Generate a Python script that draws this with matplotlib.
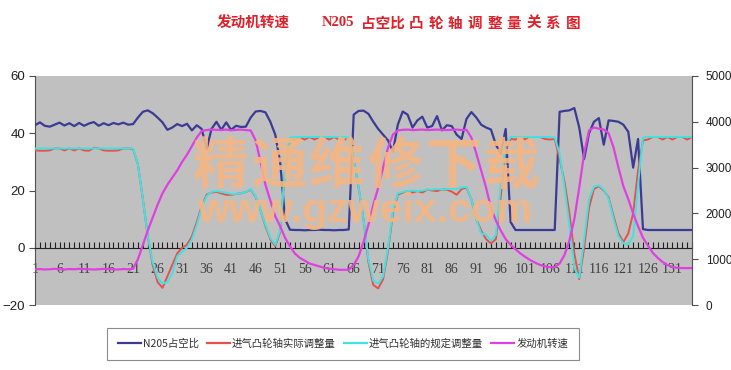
import numpy as np
import matplotlib
matplotlib.use("Agg")
import matplotlib.pyplot as plt
from matplotlib.lines import Line2D

plt.rcParams['font.family'] = ['Noto Sans CJK SC', 'DejaVu Sans']

categories = list(range(1, 136))
tick_labels = [str(c) for c in range(1, 136, 5)]

n205_duty = [
    42.8, 43.8, 42.6, 42.3, 43.0, 43.7, 42.7, 43.5, 42.5, 43.6,
    42.6, 43.4, 43.9, 42.6, 43.5, 42.8, 43.6, 43.1, 43.7, 43.0,
    43.2, 45.5, 47.5, 48.0, 47.0, 45.5, 43.8, 41.2, 42.0, 43.2,
    42.5, 43.3, 41.0, 42.8, 41.5, 34.5, 41.5, 44.0, 41.2, 43.8,
    41.2, 42.6, 42.2, 42.3, 45.5, 47.6, 47.8, 47.3, 44.0, 39.5,
    30.0, 10.0,
    6.3, 6.2, 6.2, 6.1, 6.2, 6.2, 6.3, 6.2, 6.2, 6.1, 6.2, 6.2, 6.4,
    46.5, 47.8, 47.9, 46.8, 44.0, 41.5, 39.5, 37.5, 33.5, 43.0,
    47.6, 46.5, 42.0, 44.5, 45.8, 42.0, 42.5, 46.0, 41.0, 42.8,
    42.5, 39.5, 38.0, 45.0, 47.4, 45.5, 43.0, 42.0, 41.3, 36.0,
    33.0, 41.5, 9.0,
    6.2, 6.2, 6.2, 6.2, 6.2, 6.2, 6.2, 6.2, 6.2,
    47.5, 47.8, 48.0, 48.8, 42.0, 31.0, 40.0, 44.0, 45.3, 36.0,
    44.5, 44.3, 44.0, 43.0, 40.5, 28.0, 38.0, 6.5,
    6.2, 6.2, 6.2, 6.2, 6.2, 6.2, 6.2, 6.2, 6.2, 6.2,
]

cam_actual = [
    34.0, 33.9, 33.9, 34.0, 34.7, 34.7, 34.0, 34.7, 34.0, 34.7,
    34.0, 33.9, 34.9, 34.7, 34.0, 33.9, 33.9, 34.0, 34.7, 34.7,
    34.5, 29.0, 17.0, 4.0, -6.0, -12.0, -14.0, -10.0, -6.0, -2.0,
    0.0, 1.0, 4.0, 9.0, 14.5, 18.5, 19.3, 19.5, 19.0, 18.5,
    18.5, 18.8, 19.0, 19.5, 20.3, 17.8, 13.0, 7.5, 3.0, 0.5,
    5.5, 27.0, 38.0,
    37.8, 38.7, 37.8, 38.7, 37.8, 38.7, 38.7, 37.8, 38.7, 37.8, 37.9,
    38.0, 31.0, 21.0, 10.0, -5.0, -13.0, -14.2, -11.0, -1.0, 12.0,
    18.5, 19.3, 19.8, 19.3, 19.8, 19.3, 20.3, 20.0, 19.8, 20.3,
    20.3, 19.6, 18.5, 20.5, 21.0, 17.0, 10.0, 6.0, 3.0, 1.5,
    3.0, 18.0, 34.0,
    38.0, 37.8, 38.7, 37.8, 38.7, 38.7, 38.7, 38.0, 37.8,
    38.0, 31.0, 23.0, 12.0, -2.0, -11.0, 0.0, 14.0, 20.5, 21.5,
    20.0, 17.5, 11.0, 5.0, 2.0, 5.0, 12.0, 27.0, 37.5,
    37.8, 38.7, 38.7, 37.8, 38.7, 37.8, 38.7, 38.7, 37.8, 38.7,
]

cam_spec = [
    34.7, 34.7, 34.7, 34.7, 34.7, 34.7, 34.7, 34.7, 34.7, 34.7,
    34.7, 34.7, 34.7, 34.7, 34.7, 34.7, 34.7, 34.7, 34.7, 34.7,
    34.7, 29.0, 17.0, 4.0, -5.0, -10.5, -12.5, -12.0, -9.0, -3.0,
    -1.5, 0.0, 3.0, 8.0, 14.0, 18.0, 19.5, 19.8, 19.5, 19.2,
    18.8, 18.8, 19.0, 19.5, 20.5, 18.0, 13.0, 8.0, 3.5, 1.0,
    6.0, 28.0, 38.5,
    38.7, 38.7, 38.7, 38.7, 38.7, 38.7, 38.7, 38.7, 38.7, 38.7, 38.7,
    38.5, 31.0, 21.0, 10.0, -4.0, -11.5, -12.5, -10.0, 0.0, 13.0,
    19.0, 19.5, 19.8, 20.0, 19.8, 20.0, 20.3, 20.3, 20.5, 20.3,
    20.5, 20.7, 20.5, 21.0, 21.3, 17.0, 10.0, 5.0, 4.5, 2.5,
    4.5, 22.0, 35.5,
    38.7, 38.7, 38.7, 38.7, 38.7, 38.7, 38.7, 38.7, 38.7,
    38.5, 33.0, 21.0, 8.0, -7.0, -10.5, 3.0, 17.0, 21.3, 21.8,
    20.3, 17.0, 10.0, 4.0, 1.5, 1.2, 4.0, 22.0, 38.5,
    38.7, 38.7, 38.7, 38.7, 38.7, 38.7, 38.7, 38.7, 38.7, 38.7,
]

engine_rpm = [
    780, 785, 775, 780, 790, 780, 775, 785, 780, 790,
    785, 780, 775, 780, 790, 785, 780, 775, 785, 780,
    790, 1000, 1312, 1625, 1906, 2188, 2438, 2625, 2781, 2938,
    3125, 3281, 3469, 3656, 3800, 3820, 3830, 3825, 3820, 3830,
    3815, 3825, 3830, 3820, 3810, 3594, 3125, 2625, 2281, 1938,
    1719, 1469, 1281, 1125, 1031, 969, 906, 875, 844, 812,
    794, 781, 769, 769, 769, 875, 1062, 1375, 1750, 2188,
    2562, 3000, 3438, 3719, 3812, 3825, 3830, 3820, 3825, 3830,
    3820, 3825, 3830, 3825, 3820, 3825, 3830, 3820, 3825, 3656,
    3312, 2938, 2562, 2125, 1844, 1625, 1438, 1312, 1219, 1125,
    1050, 981, 925, 875, 844, 825, 825, 906, 1094, 1406,
    1875, 2562, 3312, 3812, 3875, 3850, 3831, 3750, 3438, 3000,
    2594, 2312, 2000, 1719, 1469, 1300, 1138, 1031, 938, 875,
    831, 812, 806, 806, 806,
]

series_names = ['N205占空比', '进气凸轮轴实际调整量', '进气凸轮轴的规定调整量', '发动机转速']
col_navy = '#3B3B96'
col_red = '#E8504A'
col_cyan = '#3FE3E3'
col_mag = '#E040E0'

W, H = 731, 370
fig = plt.figure(figsize=(W / 100, H / 100), dpi=100)
fig.patch.set_facecolor('white')

x0, x1, ytop, ybot = 35, 692, 76, 305
ax = fig.add_axes([x0 / W, 1 - ybot / H, (x1 - x0) / W, (ybot - ytop) / H])
ax.set_facecolor('#C0C0C0')
ax.set_xlim(1, 135)
ax.set_ylim(-20, 60)
ax.set_yticks([-20, 0, 20, 40, 60])

ax.plot(categories, n205_duty, color=col_navy, lw=1.6, zorder=3)
ax.plot(categories, cam_actual, color=col_red, lw=1.4, zorder=4)
ax.plot(categories, cam_spec, color=col_cyan, lw=1.4, zorder=5)

ax.spines['bottom'].set_position(('data', 0))
ax.spines['bottom'].set_color('#202020')
ax.spines['top'].set_visible(False)
ax.spines['right'].set_visible(False)
ax.spines['left'].set_color('#505050')

ax.set_xticks(categories[::5])
ax.set_xticklabels(tick_labels, family='Liberation Serif', fontsize=10, color='#404040')
ax.set_xticks(categories, minor=True)
ax.tick_params(axis='x', which='both', direction='in', length=4, width=0.8, color='#202020', pad=11)
ax.tick_params(axis='y', direction='out', length=4, width=0.8, color='#505050', pad=3)
for lab in ax.get_yticklabels():
    lab.set_family('Liberation Sans')
    lab.set_fontsize(9.5)
    lab.set_color('#202020')

ax2 = ax.twinx()
ax2.set_ylim(0, 5000)
ax2.set_yticks([0, 1000, 2000, 3000, 4000, 5000])
ax2.plot(categories, engine_rpm, color=col_mag, lw=1.6, zorder=6)
for s in ['top', 'bottom', 'left']:
    ax2.spines[s].set_visible(False)
ax2.spines['right'].set_color('#505050')
ax2.tick_params(axis='y', direction='out', length=4, width=0.8, color='#505050', pad=6)
for lab in ax2.get_yticklabels():
    lab.set_family('Liberation Sans')
    lab.set_fontsize(8.5)
    lab.set_color('#202020')

# Title (red)
tcol = '#E0202A'
ty = 1 - 23 / H
fig.text(253 / W, ty, '发动机转速', color=tcol, fontsize=10.5, fontweight='bold', ha='center', va='center')
fig.text(338 / W, ty, 'N205', color=tcol, fontsize=10.5, fontweight='bold', ha='center', va='center',
         family=['Liberation Serif'])
fig.text(383 / W, ty, '占空比', color=tcol, fontsize=10.5, fontweight='bold', ha='center', va='center')
for k, ch in enumerate('凸轮轴调整量关系图'):
    fig.text((416 + k * 19.6) / W, ty, ch, color=tcol, fontsize=10.5, fontweight='bold',
             ha='center', va='center')

# Watermark
wcol = '#F5B584'
for k, ch in enumerate('精通维修下载'):
    fig.text((221 + k * 58) / W, 1 - 167 / H, ch, color=wcol, alpha=0.9, fontsize=40,
             fontweight='bold', ha='center', va='center', zorder=10)
fig.text(365 / W, 1 - 211 / H, 'www.gzweix.com', color=wcol, alpha=0.9, fontsize=29.5,
         fontweight='bold', family=['Liberation Sans'], ha='center', va='center', zorder=10)

handles = [Line2D([], [], color=c, lw=1.6) for c in (col_navy, col_red, col_cyan, col_mag)]
leg = fig.legend(handles, series_names, loc='center', bbox_to_anchor=(343 / W, 1 - 344 / H),
                 ncol=4, fontsize=7.5, frameon=True, fancybox=False, edgecolor='#707070',
                 handlelength=2.2, handletextpad=0.2, columnspacing=0.8, borderpad=1.0)
leg.get_frame().set_linewidth(0.8)
for t in leg.get_texts():
    t.set_color('#303030')

fig.savefig('out.png', dpi=100, facecolor='white')
